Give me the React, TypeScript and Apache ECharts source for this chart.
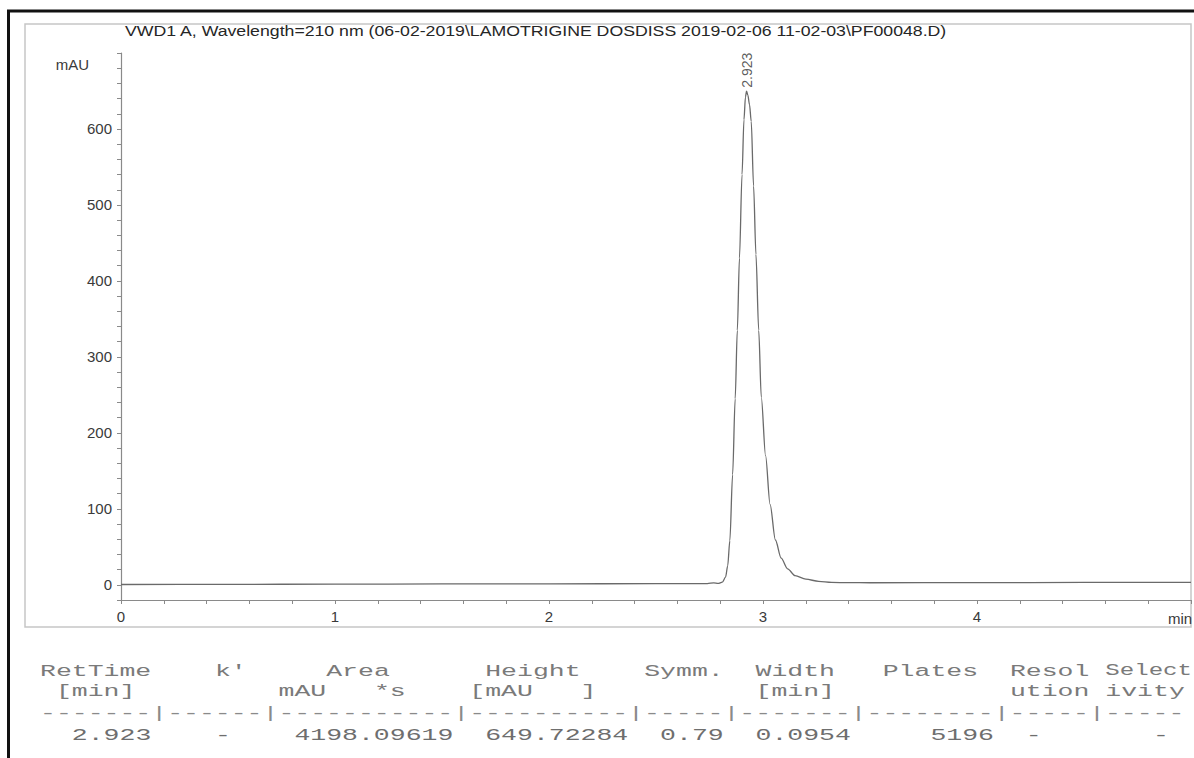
import React, { useEffect, useRef } from "react";
import * as echarts from "echarts";

// ---------- data ----------
const titleText =
  "VWD1 A, Wavelength=210 nm (06-02-2019\\LAMOTRIGINE DOSDISS 2019-02-06 11-02-03\\PF00048.D)";
const yUnit = "mAU";
const xUnit = "min";
const peakLabel = "2.923";

// retention time (min) and detector signal (mAU)
const retTime = [
  0.0, 0.5, 1.0, 1.5, 2.0, 2.5, 2.74, 2.77, 2.79, 2.81, 2.825, 2.835, 2.845, 2.858,
  2.87, 2.88, 2.89, 2.902, 2.911, 2.918, 2.923, 2.929, 2.937, 2.945, 2.956, 2.967,
  2.98, 2.992, 3.012, 3.033, 3.058, 3.085, 3.115, 3.15, 3.2, 3.26, 3.32, 3.4, 3.5,
  4.0, 4.5, 5.0,
];
const signal = [
  0.4, 0.6, 0.9, 1.1, 1.3, 1.5, 1.6, 2.6, 1.8, 3.5, 10, 25, 58, 145,
  245, 335, 430, 540, 612, 642, 649.7, 645, 632, 610, 525, 435,
  335, 247, 170, 106, 59, 35, 21, 12, 7.5, 4.5, 3.2, 2.8, 2.7,
  2.9, 3.1, 3.3,
];
const peakTime = [2.923];
const peakHeight = [649.7];

const yTickValues = [0, 100, 200, 300, 400, 500, 600];
const xTickValues = [0, 1, 2, 3, 4];

// report table
const headerRow1 = ["RetTime", "k'", "Area", "Height", "Symm.", "Width", "Plates", "Resol", "Select"];
const headerRow2 = ["[min]", "mAU", "*s", "[mAU", "]", "[min]", "ution", "ivity"];
const separatorRow = ["-------|------|-----------|----------|-----|-------|--------|-----|-----"];
const valueRow = ["2.923", "-", "4198.09619", "649.72284", "0.79", "0.0954", "5196", "-", "-"];

// ---------- layout (character columns of the fixed-width report) ----------
const cols1 = [0, 11, 18, 28, 38, 45, 53, 61, 67];
const cols2 = [1, 15, 21, 27, 34, 45, 61, 67];
const colsSep = [0];
const colsVal = [2, 11, 16, 28, 39, 45, 56, 62, 70];

const SANS = "'Liberation Sans', Arial, sans-serif";
const MONO = "'Liberation Mono', 'Courier New', monospace";

export default function App() {
  const ref = useRef<HTMLDivElement>(null);

  useEffect(() => {
    if (!ref.current) return;
    const chart = echarts.init(ref.current, undefined, { renderer: "svg" });

    const seriesData = retTime.map((t, i) => [t, signal[i]]);
    const peakData = peakTime.map((t, i) => [t, peakHeight[i]]);

    const fontSize = 17;
    const charW = fontSize * 0.6;
    const pitch = 15.9;
    const x0 = 40;
    const rightLimit = 1192;
    const tableText = (cells: string[], cols: number[], y: number, fill: string) =>
      cells.map((c, i) => {
        // squeeze a cell slightly if it would run past the page edge
        const endX = x0 + (cols[i] + c.length) * pitch;
        const startX = x0 + cols[i] * pitch;
        const squeeze = endX > rightLimit ? (rightLimit - startX) / (endX - startX) : 1;
        return {
          type: "text",
          x: cols[i] * charW,
          y,
          scaleX: squeeze,
          style: {
            text: c,
            fill,
            fontSize,
            fontFamily: MONO,
            align: "left",
            textAlign: "left",
            verticalAlign: "middle",
            textVerticalAlign: "middle",
          },
        };
      });

    const axisGray = "#8a8a8a";

    chart.setOption({
      animation: false,
      backgroundColor: "#ffffff",
      grid: { left: 121, top: 53, width: 1082.5, height: 547, containLabel: false },
      xAxis: {
        type: "value",
        min: 0,
        max: 5,
        interval: 0.2,
        axisLine: { show: true, onZero: false, lineStyle: { color: axisGray, width: 1.2 } },
        axisTick: { show: true, length: 4, lineStyle: { color: axisGray } },
        splitLine: { show: false },
        axisLabel: {
          fontSize: 15,
          fontFamily: SANS,
          color: "#3a3a3a",
          margin: 9,
          formatter: (v: number) => {
            const r = Math.round(v);
            return Math.abs(v - r) < 1e-6 && xTickValues.includes(r) ? String(r) : "";
          },
        },
      },
      yAxis: {
        type: "value",
        min: -20,
        max: 700,
        interval: 20,
        axisLine: { show: true, onZero: false, lineStyle: { color: axisGray, width: 1.2 } },
        axisTick: { show: true, length: 4, lineStyle: { color: axisGray } },
        splitLine: { show: false },
        axisLabel: {
          fontSize: 15,
          fontFamily: SANS,
          color: "#3a3a3a",
          margin: 9,
          formatter: (v: number) =>
            yTickValues.includes(Math.round(v)) && Math.abs(v - Math.round(v)) < 1e-6
              ? String(Math.round(v))
              : "",
        },
      },
      series: [
        {
          type: "line",
          data: seriesData,
          showSymbol: false,
          symbol: "none",
          smooth: 0.3,
          smoothMonotone: "x",
          lineStyle: { color: "#6a6a6a", width: 1.3 },
          z: 3,
        },
        {
          type: "scatter",
          data: peakData,
          symbolSize: 1,
          itemStyle: { color: "rgba(0,0,0,0)" },
          label: {
            show: true,
            formatter: peakLabel,
            position: "top",
            distance: 3,
            rotate: 90,
            align: "left",
            verticalAlign: "middle",
            fontSize: 14,
            fontFamily: SANS,
            color: "#333",
          },
          z: 4,
        },
      ],
      graphic: [
        {
          type: "rect",
          shape: { x: 25, y: 24, width: 1166, height: 603 },
          style: { fill: "none", stroke: "#c6c6c6", lineWidth: 1.5 },
          silent: true,
        },
        {
          type: "line",
          shape: { x1: 7, y1: 11, x2: 1194, y2: 11 },
          style: { stroke: "#111", lineWidth: 3 },
          silent: true,
        },
        {
          type: "line",
          shape: { x1: 8.5, y1: 10, x2: 8.5, y2: 758 },
          style: { stroke: "#111", lineWidth: 3 },
          silent: true,
        },
        {
          type: "text",
          x: 125,
          y: 31,
          scaleX: 1.18,
          style: {
            text: titleText,
            fill: "#262626",
            fontSize: 15,
            fontFamily: SANS,
            align: "left",
            textAlign: "left",
            verticalAlign: "middle",
            textVerticalAlign: "middle",
          },
        },
        {
          type: "text",
          x: 89,
          y: 64,
          style: {
            text: yUnit,
            fill: "#3a3a3a",
            fontSize: 15,
            fontFamily: SANS,
            align: "right",
            textAlign: "right",
            verticalAlign: "middle",
            textVerticalAlign: "middle",
          },
        },
        {
          type: "text",
          x: 1168,
          y: 618,
          style: {
            text: xUnit,
            fill: "#3a3a3a",
            fontSize: 15,
            fontFamily: SANS,
            align: "left",
            textAlign: "left",
            verticalAlign: "middle",
            textVerticalAlign: "middle",
          },
        },
        {
          type: "group",
          x: x0,
          y: 0,
          scaleX: pitch / charW,
          children: [
            ...tableText(headerRow1, cols1, 671, "#7a7a7a"),
            ...tableText(headerRow2, cols2, 691, "#7a7a7a"),
            ...tableText(separatorRow, colsSep, 713, "#8a8a8a"),
            ...tableText(valueRow, colsVal, 735, "#6e6e6e"),
          ],
        },
      ],
    });

    return () => chart.dispose();
  }, []);

  return (
    <div
      ref={ref}
      style={{ position: "fixed", left: 0, top: 0, width: 1194, height: 758, background: "#fff" }}
    />
  );
}
